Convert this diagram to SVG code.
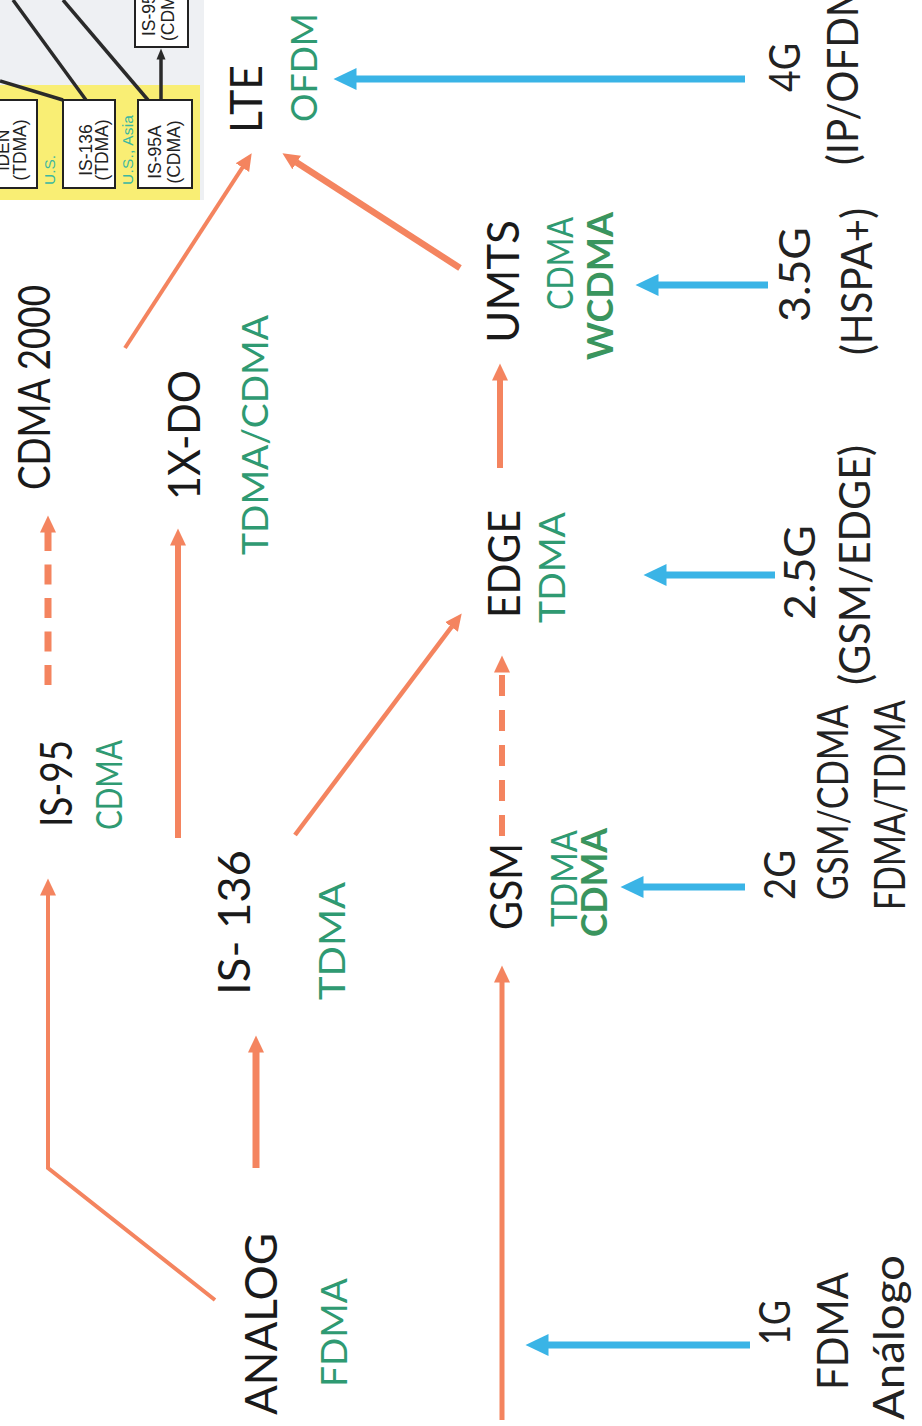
<svg xmlns="http://www.w3.org/2000/svg" width="922" height="1426" viewBox="0 0 922 1426">
<style>
.blk{font-family:Lato,"Open Sans","Liberation Sans",sans-serif;font-size:44px;fill:#1a1a1a}
.grn{font-family:Lato,"Open Sans","Liberation Sans",sans-serif;font-size:37px;fill:#2f9a72}
.grnb{font-family:Lato,"Open Sans","Liberation Sans",sans-serif;font-size:37px;font-weight:bold;fill:#3a955e}
.rt{font-family:Lato,"Open Sans","Liberation Sans",sans-serif;font-size:42px;fill:#222}
.bx{font-family:"Liberation Sans",Arial,sans-serif;font-size:17.5px;fill:#222}
.us{font-family:"Liberation Sans",Arial,sans-serif;font-size:15.5px;fill:#3cb8a0}
.box{fill:#fff;stroke:#222;stroke-width:2}
.or{fill:none;stroke:#f4845f;stroke-linecap:butt;marker-end:url(#oa)}
.bl{fill:none;stroke:#3ab4e6;stroke-width:7;marker-end:url(#ba)}
.dk{fill:none;stroke:#2a2a2a;stroke-width:3.5}
</style>
<defs>
<marker id="oa" markerUnits="userSpaceOnUse" markerWidth="18" markerHeight="18" viewBox="0 -9 18 18" refX="0.5" refY="0" orient="auto"><path d="M0,-8 L17,0 L0,8 Z" fill="#f4845f"/></marker>
<marker id="ba" markerUnits="userSpaceOnUse" markerWidth="24" markerHeight="24" viewBox="0 -12 24 24" refX="0.5" refY="0" orient="auto"><path d="M0,-11 L23,0 L0,11 Z" fill="#3ab4e6"/></marker>
<marker id="ka" markerUnits="userSpaceOnUse" markerWidth="12" markerHeight="12" viewBox="0 -6 12 12" refX="0.5" refY="0" orient="auto"><path d="M0,-4.5 L11,0 L0,4.5 Z" fill="#2a2a2a"/></marker>
</defs>

<g id="inset">
<rect x="0" y="0" width="204" height="200" fill="#eef0f3"/>
<rect x="0" y="85" width="200" height="115" fill="#f9ee74"/>
<line class="dk" x1="0" y1="81" x2="63" y2="100"/>
<line class="dk" x1="13" y1="0" x2="86" y2="100"/>
<line class="dk" x1="63" y1="0" x2="148" y2="100"/>
<line class="dk" x1="161" y1="100" x2="161" y2="59" marker-end="url(#ka)"/>
<g id="box-iden"><rect class="box" x="-3" y="100" width="40" height="88"/>
<text class="bx" text-anchor="middle" transform="translate(9,150) rotate(-90)">iDEN</text>
<text class="bx" text-anchor="middle" transform="translate(26,150) rotate(-90)">(TDMA)</text></g>
<g id="box-is136"><rect class="box" x="63" y="100" width="52" height="88"/>
<text class="bx" text-anchor="middle" transform="translate(92,150) rotate(-90)">IS-136</text>
<text class="bx" text-anchor="middle" transform="translate(108,150) rotate(-90)">(TDMA)</text></g>
<g id="box-is95a"><rect class="box" x="138" y="100" width="54" height="88"/>
<text class="bx" text-anchor="middle" transform="translate(161,152) rotate(-90)">IS-95A</text>
<text class="bx" text-anchor="middle" transform="translate(180,152) rotate(-90)">(CDMA)</text></g>
<g id="box-is95b"><rect class="box" x="135" y="-5" width="53" height="52"/>
<text class="bx" transform="translate(155,36) rotate(-90)">IS-95B</text>
<text class="bx" transform="translate(174,41) rotate(-90)">(CDMA)</text></g>
<text class="us" transform="translate(55,185) rotate(-90)">U.S.</text>
<text class="us" transform="translate(133,185) rotate(-90)" textLength="70">U.S., Asia</text>
</g>

<g id="connectors">
<polyline class="or" stroke-width="4" points="215,1300 48,1168 48,895"/>
<line class="or" stroke-width="7" x1="256" y1="1168" x2="256" y2="1052"/>
<line class="or" stroke-width="6" x1="178" y1="838" x2="178" y2="545"/>
<line class="or" stroke-width="7" stroke-dasharray="20 13.5" x1="48" y1="685" x2="48" y2="532"/>
<line class="or" stroke-width="4" x1="125" y1="348" x2="242.7" y2="167.2"/>
<line class="or" stroke-width="4.5" x1="295" y1="835" x2="451.8" y2="626.6"/>
<line class="or" stroke-width="6" stroke-dasharray="21 14" x1="502" y1="836" x2="502" y2="672"/>
<line class="or" stroke-width="6" x1="500" y1="468" x2="500" y2="380"/>
<line class="or" stroke-width="6.5" x1="460" y1="268" x2="296.3" y2="162.2"/>
<line class="or" stroke-width="5" x1="502" y1="1420" x2="502" y2="982"/>
<line class="bl" x1="745" y1="79" x2="356" y2="79"/>
<line class="bl" x1="768" y1="285" x2="658" y2="285"/>
<line class="bl" x1="775" y1="575" x2="666" y2="575"/>
<line class="bl" x1="745" y1="887" x2="643" y2="887"/>
<line class="bl" x1="750" y1="1345" x2="548" y2="1345"/>
</g>

<g id="node-cdma2000"><text class="blk" transform="translate(50,490) rotate(-90)" textLength="205" lengthAdjust="spacingAndGlyphs">CDMA 2000</text></g>
<g id="node-is95"><text class="blk" transform="translate(72,827) rotate(-90)" textLength="87" lengthAdjust="spacingAndGlyphs">IS-95</text>
<text class="grn" transform="translate(122,830) rotate(-90)" textLength="90" lengthAdjust="spacingAndGlyphs">CDMA</text></g>
<g id="node-is136"><text class="blk" transform="translate(250,995) rotate(-90)" textLength="145" lengthAdjust="spacingAndGlyphs">IS- 136</text>
<text class="grn" transform="translate(345,1000) rotate(-90)" textLength="118" lengthAdjust="spacingAndGlyphs">TDMA</text></g>
<g id="node-1xdo"><text class="blk" transform="translate(200,500) rotate(-90)" textLength="130" lengthAdjust="spacingAndGlyphs">1X-DO</text>
<text class="grn" transform="translate(268,555) rotate(-90)" textLength="240" lengthAdjust="spacingAndGlyphs">TDMA/CDMA</text></g>
<g id="node-lte"><text class="blk" transform="translate(262,133) rotate(-90)" textLength="68" lengthAdjust="spacingAndGlyphs">LTE</text>
<text class="grn" transform="translate(317,122) rotate(-90)" textLength="109" lengthAdjust="spacingAndGlyphs">OFDM</text></g>
<g id="node-umts"><text class="blk" transform="translate(519,343) rotate(-90)" textLength="123" lengthAdjust="spacingAndGlyphs">UMTS</text>
<text class="grn" transform="translate(573,310) rotate(-90)" textLength="93" lengthAdjust="spacingAndGlyphs">CDMA</text>
<text class="grnb" transform="translate(613,360) rotate(-90)" textLength="148" lengthAdjust="spacingAndGlyphs">WCDMA</text></g>
<g id="node-edge"><text class="blk" transform="translate(520,618) rotate(-90)" textLength="108" lengthAdjust="spacingAndGlyphs">EDGE</text>
<text class="grn" transform="translate(565,623) rotate(-90)" textLength="111" lengthAdjust="spacingAndGlyphs">TDMA</text></g>
<g id="node-gsm"><text class="blk" transform="translate(522,930) rotate(-90)" textLength="87" lengthAdjust="spacingAndGlyphs">GSM</text>
<text class="grn" transform="translate(577,927) rotate(-90)" textLength="97" lengthAdjust="spacingAndGlyphs">TDMA</text>
<text class="grnb" transform="translate(607,937) rotate(-90)" textLength="109" lengthAdjust="spacingAndGlyphs">CDMA</text></g>
<g id="node-analog"><text class="blk" transform="translate(277,1415) rotate(-90)" textLength="182" lengthAdjust="spacingAndGlyphs">ANALOG</text>
<text class="grn" transform="translate(347,1387) rotate(-90)" textLength="109" lengthAdjust="spacingAndGlyphs">FDMA</text></g>

<g id="gen-4g"><text class="rt" transform="translate(800,92) rotate(-90)" textLength="49" lengthAdjust="spacingAndGlyphs">4G</text>
<text class="rt" transform="translate(858,165) rotate(-90)" textLength="196" lengthAdjust="spacingAndGlyphs">(IP/OFDM)</text></g>
<g id="gen-35g"><text class="rt" transform="translate(810,322) rotate(-90)" textLength="95" lengthAdjust="spacingAndGlyphs">3.5G</text>
<text class="rt" transform="translate(872,355) rotate(-90)" textLength="147" lengthAdjust="spacingAndGlyphs">(HSPA+)</text></g>
<g id="gen-25g"><text class="rt" transform="translate(815,620) rotate(-90)" textLength="95" lengthAdjust="spacingAndGlyphs">2.5G</text>
<text class="rt" transform="translate(870,685) rotate(-90)" textLength="240" lengthAdjust="spacingAndGlyphs">(GSM/EDGE)</text></g>
<g id="gen-2g"><text class="rt" transform="translate(795,900) rotate(-90)" textLength="50" lengthAdjust="spacingAndGlyphs">2G</text>
<text class="rt" transform="translate(848,900) rotate(-90)" textLength="195" lengthAdjust="spacingAndGlyphs">GSM/CDMA</text>
<text class="rt" transform="translate(905,910) rotate(-90)" textLength="210" lengthAdjust="spacingAndGlyphs">FDMA/TDMA</text></g>
<g id="gen-1g"><text class="rt" transform="translate(790,1345) rotate(-90)" textLength="45" lengthAdjust="spacingAndGlyphs">1G</text>
<text class="rt" transform="translate(848,1390) rotate(-90)" textLength="118" lengthAdjust="spacingAndGlyphs">FDMA</text>
<text class="rt" transform="translate(904,1420) rotate(-90)" textLength="165" lengthAdjust="spacingAndGlyphs">Análogo</text></g>
</svg>
